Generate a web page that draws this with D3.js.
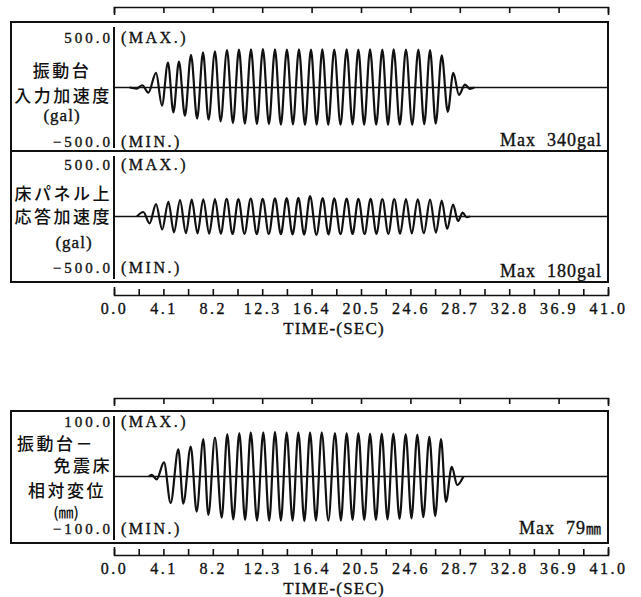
<!DOCTYPE html>
<html>
<head>
<meta charset="utf-8">
<script src="https://cdn.jsdelivr.net/npm/d3@7"></script>
<style>
  body { margin: 0; background: #fff; }
  svg { display: block; }
</style>
</head>
<body>
<svg id="chart" width="641" height="597"></svg>
<script>
// ---- time axis (seconds) ----
const majorTicks = [0.0, 4.1, 8.2, 12.3, 16.4, 20.5, 24.6, 28.7, 32.8, 36.9, 41.0];
const majorLabels = ["0.0", "4.1", "8.2", "12.3", "16.4", "20.5", "24.6", "28.7", "32.8", "36.9", "41.0"];
const minorTicks = [2.05, 6.15, 10.25, 14.35, 18.45, 22.55, 26.65, 30.75, 34.85, 38.95];

// ---- 振動台 入力加速度 (gal): extrema of the record ----
const inputAccT = [1.3, 1.88, 2.35, 2.85, 3.49, 3.98, 4.48, 4.93, 5.39, 5.89, 6.39, 6.9, 7.39, 7.85, 8.38, 8.85,
  9.38, 9.87, 10.37, 10.86, 11.37, 11.86, 12.36, 12.86, 13.36, 13.85, 14.35, 14.85, 15.35, 15.85, 16.35, 16.82,
  17.29, 17.78, 18.28, 18.8, 19.31, 19.8, 20.28, 20.76, 21.25, 21.76, 22.27, 22.74, 23.21, 23.72, 24.23, 24.75,
  25.26, 25.75, 26.23, 26.7, 27.2, 27.7, 28.16, 28.63, 29.13, 29.55, 29.9];
const inputAccV = [0, -10, 20, -45, 130, -160, 220, -220, 230, -250, 290, -275, 310, -285, 320, -300,
  330, -315, 335, -320, 338, -325, 340, -325, 338, -328, 336, -326, 338, -330, 335, -328,
  338, -330, 336, -328, 338, -326, 335, -330, 338, -328, 336, -330, 338, -328, 336, -330,
  335, -325, 332, -320, 285, -215, 130, -65, 25, -12, 0];

// ---- 床パネル上 応答加速度 (gal) ----
const floorAccT = [1.9, 2.43, 2.95, 3.49, 4.0, 4.51, 4.98, 5.48, 5.97, 6.45, 6.93, 7.41, 7.9, 8.38, 8.86,
  9.35, 9.84, 10.32, 10.83, 11.35, 11.85, 12.34, 12.85, 13.36, 13.85, 14.33, 14.82, 15.3, 15.78, 16.27, 16.8,
  17.32, 17.8, 18.28, 18.8, 19.31, 19.8, 20.28, 20.8, 21.3, 21.78, 22.27, 22.77, 23.26, 23.75, 24.23, 24.72,
  25.2, 25.72, 26.23, 26.72, 27.2, 27.65, 28.14, 28.55, 28.94, 29.25, 29.55];
const floorAccV = [0, 40, -60, 110, -115, 130, -140, 145, -148, 150, -150, 152, -152, 155, -152,
  156, -155, 155, -154, 158, -156, 157, -155, 160, -156, 162, -158, 165, -160, 180, -162,
  162, -158, 160, -156, 158, -155, 157, -155, 156, -154, 155, -153, 155, -152, 154, -150,
  152, -148, 150, -142, 140, -110, 105, -40, 35, -5, 0];

// ---- 振動台－免震床 相対変位 (mm) ----
const relDispT = [2.9, 3.13, 3.54, 4.15, 4.7, 5.34, 5.75, 6.37, 6.86, 7.41, 7.83, 8.38, 8.94, 9.4, 9.9,
  10.4, 10.88, 11.35, 11.87, 12.39, 12.88, 13.36, 13.85, 14.33, 14.82, 15.3, 15.8, 16.27, 16.76, 17.24, 17.79,
  18.34, 18.83, 19.31, 19.8, 20.28, 20.77, 21.25, 21.74, 22.22, 22.7, 23.18, 23.7, 24.21, 24.69, 25.17, 25.67,
  26.17, 26.66, 27.14, 27.55, 28.03, 28.49, 29.0];
const relDispV = [0, 3, -5, 25, -47, 48, -48, 53, -62, 66, -68, 69, -73, 75, -76,
  77, -77, 78, -78, 78, -78, 79, -78, 78, -78, 78, -79, 78, -78, 78, -78,
  77, -78, 77, -77, 77, -77, 76, -77, 76, -76, 76, -75, 75, -74, 74, -72,
  70, -70, 66, -45, 17, -15, 0];

const svg = d3.select("#chart");
const INK = "#111";
const SERIF = "'Liberation Serif', 'DejaVu Serif', 'Times New Roman', serif";
const JP = "'Noto Sans CJK JP', 'Noto Sans CJK SC', sans-serif";
const x = d3.scaleLinear().domain([0, 41]).range([114, 608]);

function zip(t, v) { return t.map((d, i) => [d, v[i]]); }

// printed-type look: a hairline outline thickens the glyphs slightly
function serifText(sel, size, spacing) {
  return sel.attr("fill", INK).attr("stroke", INK).attr("stroke-width", 0.35)
    .style("font-family", SERIF).style("font-size", size + "px")
    .style("letter-spacing", spacing + "px");
}
function jpText(sel, size, spacing) {
  return sel.attr("fill", INK).style("font-family", JP).style("font-size", size + "px")
    .style("font-weight", 500).style("letter-spacing", spacing + "px");
}

// ---- panel definitions ----
const panels = [
  {
    data: zip(inputAccT, inputAccV), lim: 500, top: 22, bottom: 151, y0: 144, y1: 31,
    maxTxt: "500.0", minTxt: "\u2212500.0", maxY: 43, minY: 147,
    name: [{ s: "振動台", x: 62, y: 77, a: "middle" }, { s: "入力加速度", x: 63, y: 102, a: "middle" }],
    unit: { s: "(gal)", x: 62, y: 121 },
    peak: { num: "Max  340", unit: "gal", jp: false, y: 146 }
  },
  {
    data: zip(floorAccT, floorAccV), lim: 500, top: 151, bottom: 282, y0: 273, y1: 160,
    maxTxt: "500.0", minTxt: "\u2212500.0", maxY: 170, minY: 273,
    name: [{ s: "床パネル上", x: 112, y: 200, a: "end" }, { s: "応答加速度", x: 112, y: 223, a: "end" }],
    unit: { s: "(gal)", x: 74, y: 248 },
    peak: { num: "Max  180", unit: "gal", jp: false, y: 277 }
  },
  {
    data: zip(relDispT, relDispV), lim: 100, top: 411, bottom: 543, y0: 533, y1: 420,
    maxTxt: "100.0", minTxt: "\u2212100.0", maxY: 427, minY: 534,
    name: [{ s: "振動台－", x: 17, y: 450, a: "start" }, { s: "免震床", x: 112, y: 472, a: "end" },
           { s: "相対変位", x: 28, y: 497, a: "start" }],
    unit: null,
    peak: { num: "Max  79", unit: "㎜", jp: true, y: 534 }
  }
];

// ---- frames ----
svg.append("rect").attr("x", 11).attr("y", 22).attr("width", 597).attr("height", 260)
  .attr("fill", "none").attr("stroke", INK).attr("stroke-width", 2);
svg.append("line").attr("x1", 11).attr("x2", 608).attr("y1", 151).attr("y2", 151)
  .attr("stroke", INK).attr("stroke-width", 2);
svg.append("rect").attr("x", 11).attr("y", 411).attr("width", 597).attr("height", 132)
  .attr("fill", "none").attr("stroke", INK).attr("stroke-width", 2);

// ---- panels ----
panels.forEach(p => {
  const y = d3.scaleLinear().domain([-p.lim, p.lim]).range([p.y0, p.y1]);
  const g = svg.append("g");

  // vertical amplitude axis
  g.append("line").attr("x1", x(0)).attr("x2", x(0)).attr("y1", p.top + 5).attr("y2", p.bottom - 3)
    .attr("stroke", INK).attr("stroke-width", 2);
  // zero line
  g.append("line").attr("x1", x(0)).attr("x2", x(41)).attr("y1", y(0)).attr("y2", y(0))
    .attr("stroke", INK).attr("stroke-width", 1.5);
  // waveform
  const line = d3.line().x(d => x(d[0])).y(d => y(d[1])).curve(d3.curveMonotoneX);
  g.append("path").datum(p.data).attr("d", line)
    .attr("fill", "none").attr("stroke", INK).attr("stroke-width", 2.2).attr("stroke-linejoin", "round");

  // range labels
  const num = (s, yy) => serifText(g.append("text").attr("x", 113).attr("y", yy)
    .attr("text-anchor", "end"), 15, 3).text(s);
  num(p.maxTxt, p.maxY);
  num(p.minTxt, p.minY);
  const tag = (s, yy) => serifText(g.append("text").attr("x", 121).attr("y", yy), 16, 2.5).text(s);
  tag("(MAX.)", p.maxY);
  tag("(MIN.)", p.minY);

  // quantity name
  p.name.forEach(n => {
    jpText(g.append("text").attr("x", n.x).attr("y", n.y).attr("text-anchor", n.a), 17, 2.5).text(n.s);
  });
  if (p.unit) {
    serifText(g.append("text").attr("x", p.unit.x).attr("y", p.unit.y).attr("text-anchor", "middle"), 17, 1)
      .text(p.unit.s);
  }

  // peak value
  const pk = serifText(g.append("text").attr("x", 602).attr("y", p.peak.y).attr("text-anchor", "end")
    .attr("xml:space", "preserve"), 18, 1);
  pk.append("tspan").text(p.peak.num);
  const u = pk.append("tspan").text(p.peak.unit);
  if (p.peak.jp) u.style("font-family", JP).style("font-size", "15px");
});

// unit label for displacement
jpText(svg.append("text").attr("x", 66).attr("y", 518).attr("text-anchor", "middle"), 15, 0).text("(㎜)");

// ---- time axes ----
function topAxis(yPos) {
  const ax = d3.axisBottom(x).tickValues(majorTicks).tickSizeInner(6).tickSizeOuter(8).tickFormat("");
  const g = svg.append("g").attr("transform", `translate(0,${yPos})`).call(ax);
  g.selectAll("path,line").attr("stroke", INK).attr("stroke-width", 1.6);
}
function bottomAxis(yPos, titleY) {
  const all = majorTicks.concat(minorTicks).sort((a, b) => a - b);
  const ax = d3.axisBottom(x).tickValues(all).tickSizeInner(-6).tickSizeOuter(-8).tickPadding(8)
    .tickFormat(d => {
      const i = majorTicks.indexOf(d);
      return i >= 0 ? majorLabels[i] : "";
    });
  const g = svg.append("g").attr("transform", `translate(0,${yPos})`).call(ax);
  g.attr("font-family", null).attr("font-size", null);
  g.selectAll("path,line").attr("stroke", INK).attr("stroke-width", 1.6);
  serifText(g.selectAll("text"), 16, 2.5);
  serifText(svg.append("text").attr("x", 334).attr("y", titleY).attr("text-anchor", "middle"), 17, 1.2)
    .text("TIME-(SEC)");
}
topAxis(7);
bottomAxis(295, 334);
topAxis(398);
bottomAxis(555, 594);
</script>
</body>
</html>
